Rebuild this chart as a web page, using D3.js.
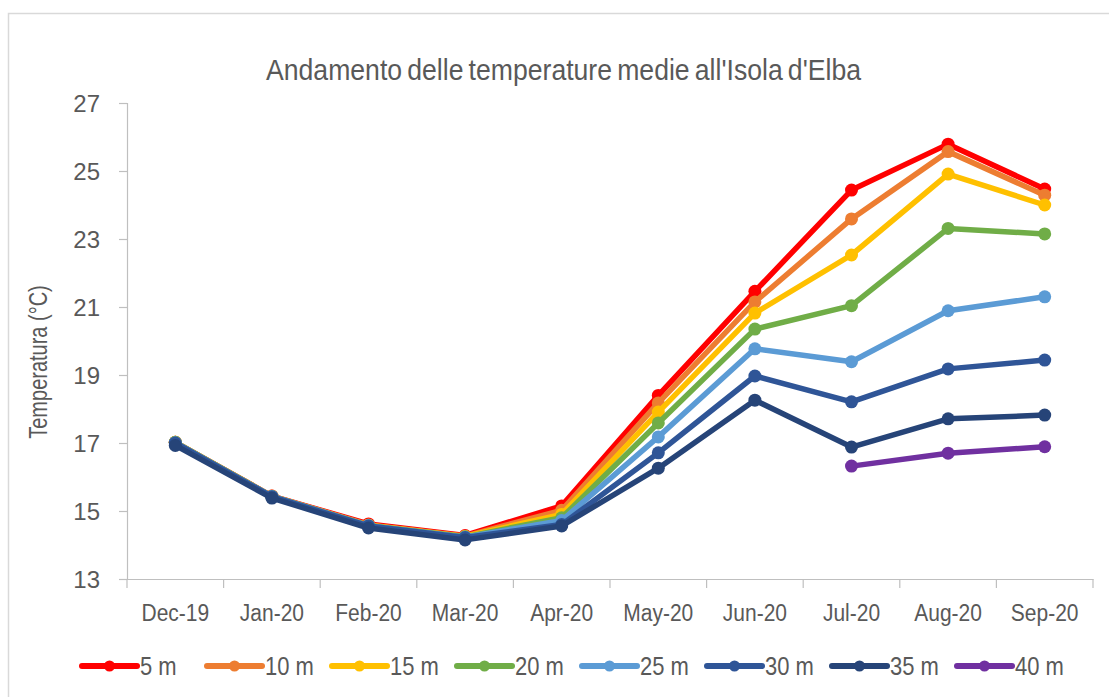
<!DOCTYPE html>
<html><head><meta charset="utf-8">
<script src="https://cdn.jsdelivr.net/npm/d3@7"></script>
<style>
html,body{margin:0;padding:0;background:#fff;}
text{font-family:"Liberation Sans",Arial,sans-serif;fill:#595959;}
</style></head>
<body><svg id="chart" width="1109" height="697"></svg>
<script>
const categories = ["Dec-19","Jan-20","Feb-20","Mar-20","Apr-20","May-20","Jun-20","Jul-20","Aug-20","Sep-20"];
const seriesNames = ["5 m","10 m","15 m","20 m","25 m","30 m","35 m","40 m"];
const seriesColors = ["#FF0000","#ED7D31","#FFC000","#70AD47","#5B9BD5","#2F5597","#264478","#7030A0"];
const s5  = [17.02, 15.44, 14.62, 14.28, 15.15, 18.40, 21.46, 24.44, 25.79, 24.47];
const s10 = [17.02, 15.44, 14.59, 14.26, 15.02, 18.18, 21.15, 23.59, 25.57, 24.29];
const s15 = [17.02, 15.43, 14.58, 14.25, 14.90, 17.91, 20.82, 22.53, 24.91, 24.00];
const s20 = [17.02, 15.43, 14.57, 14.24, 14.80, 17.59, 20.35, 21.04, 23.31, 23.15];
const s25 = [17.01, 15.43, 14.57, 14.23, 14.72, 17.18, 19.77, 19.39, 20.89, 21.30];
const s30 = [17.00, 15.42, 14.56, 14.22, 14.60, 16.71, 18.97, 18.21, 19.18, 19.44];
const s35 = [16.93, 15.38, 14.50, 14.15, 14.56, 16.26, 18.26, 16.88, 17.71, 17.82];
const s40 = [null, null, null, null, null, null, null, 16.32, 16.70, 16.89];
const seriesValues = [s5, s10, s15, s20, s25, s30, s35, s40];
const yTicks = [13, 15, 17, 19, 21, 23, 25, 27];
const titleText = "Andamento delle temperature medie all'Isola d'Elba";
const yTitle = "Temperatura (°C)";

const svg = d3.select("#chart");
// outer border
svg.append("rect").attr("x",8.5).attr("y",13.5).attr("width",1120).attr("height",700)
  .attr("fill","none").attr("stroke","#d9d9d9").attr("stroke-width",1.5);

const pLeft = 127, pRight = 1093, pTop = 103, pBottom = 579;
const x = d3.scaleBand().domain(categories).range([pLeft, pRight]).padding(0);
const y = d3.scaleLinear().domain([13, 27]).range([pBottom, pTop]);

// text vertical stretch around its baseline
function stretch(sel, baseY, k) {
  sel.attr("dy", null).attr("y", baseY)
     .attr("transform", `translate(0,${baseY}) scale(1,${k}) translate(0,${-baseY})`);
}

// y axis
const yAxis = svg.append("g").attr("transform",`translate(${pLeft},0)`)
  .call(d3.axisLeft(y).tickValues(yTicks).tickSize(8).tickPadding(19).tickFormat(d3.format("d")));
yAxis.select(".domain").attr("stroke","#bfbfbf").attr("stroke-width",1.2);
yAxis.selectAll(".tick line").attr("stroke","#bfbfbf").attr("stroke-width",1.2);
yAxis.selectAll(".tick text").attr("font-size",24).attr("fill","#595959")
  .attr("font-family","'Liberation Sans',Arial,sans-serif").attr("dy",null).attr("y",8.5);

// x axis
const xAxis = svg.append("g").attr("transform",`translate(0,${pBottom})`)
  .call(d3.axisBottom(x).tickSize(0).tickPadding(34));
xAxis.select(".domain").attr("stroke","#bfbfbf").attr("stroke-width",1.2);
xAxis.selectAll(".tick text").attr("font-size",21).attr("fill","#595959")
  .attr("font-family","'Liberation Sans',Arial,sans-serif").call(stretch, 42, 1.15);
// boundary ticks
const bounds = categories.map(c => x(c)).concat([x(categories[categories.length-1]) + x.bandwidth()]);
svg.append("g").selectAll("line").data(bounds).join("line")
  .attr("x1",d=>d).attr("x2",d=>d).attr("y1",pBottom).attr("y2",pBottom+9)
  .attr("stroke","#bfbfbf").attr("stroke-width",1.2);

// title
svg.append("text").attr("x",563.5).attr("text-anchor","middle")
  .attr("font-size",26.6).attr("word-spacing",-2.2).text(titleText).call(stretch, 80, 1.13);
// y title
svg.append("g").attr("transform","translate(47,362) rotate(-90)")
  .append("text").attr("x",0).attr("text-anchor","middle")
  .attr("font-size",20).text(yTitle).call(stretch, 0, 1.25);

// series
const cx = c => x(c) + x.bandwidth()/2;
const line = d3.line().defined(d => d.v != null).x(d => cx(d.c)).y(d => y(d.v));
seriesValues.forEach((vals, i) => {
  const pts = categories.map((c, j) => ({c, v: vals[j]}));
  const g = svg.append("g");
  g.append("path").datum(pts).attr("d", line).attr("fill","none")
    .attr("stroke", seriesColors[i]).attr("stroke-width",5.5).attr("stroke-linejoin","round");
  g.selectAll("circle").data(pts.filter(d => d.v != null)).join("circle")
    .attr("cx", d => cx(d.c)).attr("cy", d => y(d.v)).attr("r", 6.5).attr("fill", seriesColors[i]);
});

// legend
const legX0 = 82, legStep = 125, legY = 666;
seriesNames.forEach((n, i) => {
  const lx = legX0 + i*legStep;
  const g = svg.append("g");
  g.append("line").attr("x1",lx).attr("x2",lx+55).attr("y1",legY).attr("y2",legY)
    .attr("stroke",seriesColors[i]).attr("stroke-width",6).attr("stroke-linecap","round");
  g.append("circle").attr("cx",lx+27.5).attr("cy",legY).attr("r",5.5).attr("fill",seriesColors[i]);
  g.append("text").attr("x",lx+58).attr("font-size",22).text(n).call(stretch, legY+9, 1.14);
});
</script></body></html>
